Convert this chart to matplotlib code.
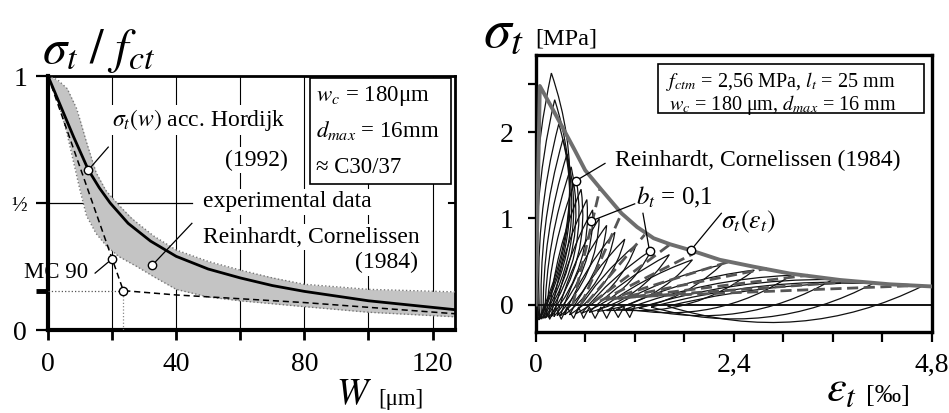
import numpy as np
import matplotlib
matplotlib.use("Agg")
import matplotlib.pyplot as plt
from matplotlib.path import Path
from matplotlib.patches import PathPatch, Rectangle

plt.rcParams.update({
    "font.family": ["Liberation Serif", "DejaVu Serif"],
    "mathtext.fontset": "stix",
})

# ---- left panel: sigma_t / f_ct over crack opening w [um] ----
band_up_w = [0, 3, 6, 9, 12, 15, 18, 21.5, 26, 33, 40, 50, 60, 70, 80, 100, 127]
band_up_s = [1.0, 0.985, 0.95, 0.87, 0.74, 0.62, 0.55, 0.50, 0.44, 0.37, 0.315, 0.27, 0.236, 0.205, 0.18, 0.16, 0.15]
band_lo_w = [0, 2, 4, 6, 8, 10, 12, 15, 18.3, 22, 27.7, 33, 40, 50, 60, 80, 100, 127]
band_lo_s = [1.0, 0.94, 0.86, 0.77, 0.66, 0.55, 0.45, 0.38, 0.33, 0.29, 0.25, 0.21, 0.16, 0.13, 0.115, 0.092, 0.07, 0.052]

hordijk_w = [0, 4, 8, 12.6, 16, 19.4, 25, 32, 40, 50, 60, 70, 80, 100, 127]
hordijk_s = [1.0, 0.88, 0.76, 0.63, 0.56, 0.50, 0.42, 0.35, 0.29, 0.24, 0.205, 0.175, 0.152, 0.115, 0.08]

mc90_w = [0, 23.5, 40, 80, 127]
mc90_s = [1.0, 0.155, 0.138, 0.108, 0.064]

mc90_marks_w = [20, 23.5]
mc90_marks_s = [0.28, 0.155]
hordijk_mark = (12.6, 0.63)
exp_mark = (32.6, 0.256)

w_ticks = [0, 20, 40, 60, 80, 100, 120]
w_labels = ["0", "", "40", "", "80", "", "120"]
s_ticks = [0, 0.155, 0.5, 1]
s_labels = ["0", "", "½", "1"]

# ---- right panel: cyclic sigma_t over eps_t ----
env_eps = [0.0, 0.05, 0.20, 0.33, 0.47, 0.60, 0.80, 1.04, 1.23, 1.43, 1.63, 1.88, 2.23, 2.64, 3.08, 3.69, 4.29, 4.80]
env_sig = [0.0, 2.54, 2.28, 2.05, 1.80, 1.56, 1.33, 1.06, 0.90, 0.77, 0.70, 0.63, 0.52, 0.44, 0.36, 0.285, 0.235, 0.21]

loop_peak_eps = [0.19, 0.23, 0.28, 0.33, 0.38, 0.43, 0.49, 0.55, 0.62, 0.69, 0.77, 0.86,
                 0.96, 1.08, 1.22, 1.40, 1.62, 1.90, 2.25, 2.65, 3.10, 3.60, 4.10, 4.70]
loop_peak_sig = [2.69, 2.38, 2.10, 1.92, 1.75, 1.60, 1.46, 1.34, 1.22, 1.10, 1.00, 0.92,
                 0.84, 0.76, 0.70, 0.63, 0.58, 0.52, 0.46, 0.40, 0.34, 0.29, 0.25, 0.22]
loop_foot_eps = [0.03, 0.04, 0.05, 0.07, 0.09, 0.11, 0.13, 0.16, 0.19, 0.22, 0.26, 0.30,
                 0.35, 0.41, 0.48, 0.56, 0.65, 0.75, 0.86, 0.98, 1.10, 1.25, 1.40, 1.60]
loop_foot_sig = [-0.18, -0.18, -0.17, -0.17, -0.16, -0.16, -0.15, -0.15, -0.14, -0.14, -0.13, -0.13,
                 -0.12, -0.12, -0.11, -0.10, -0.09, -0.08, -0.07, -0.06, -0.05, -0.04, -0.03, -0.02]

# model unloading lines (b_t = 0,1): from envelope down to the strain axis
model_peak_eps = [0.78, 1.04, 1.32, 1.63, 1.95, 2.35, 2.80, 3.30, 3.90, 4.60]
model_peak_sig = [1.35, 1.06, 0.81, 0.70, 0.61, 0.50, 0.42, 0.34, 0.27, 0.22]
model_foot_eps = [0.45, 0.55, 0.62, 0.70, 0.78, 0.85, 0.92, 1.00, 1.08, 1.15]
model_foot_sig = [0.0, 0.0, 0.02, 0.03, 0.04, 0.05, 0.06, 0.07, 0.08, 0.09]

zig_eps = [0.10, 0.17, 0.24, 0.31, 0.38, 0.46, 0.52, 0.58, 0.65, 0.72, 0.79, 0.86, 0.93, 1.00, 1.07, 1.14, 1.20]
zig_sig = [-0.02, -0.17, -0.03, -0.17, -0.03, -0.16, -0.03, -0.16, -0.03, -0.16, -0.03, -0.16, -0.03, -0.15, -0.03, -0.15, -0.02]

circle_eps = [0.49, 0.67, 1.38, 1.88]
circle_sig = [1.44, 0.97, 0.62, 0.63]

eps_ticks = [0, 0.6, 1.2, 1.8, 2.4, 3.0, 3.6, 4.2, 4.8]
eps_labels = ["0", "", "", "", "2,4", "", "", "", "4,8"]
sig_ticks = [0, 1, 2, 2.56]
sig_labels = ["0", "1", "2", ""]

W, H = 949, 413
fig = plt.figure(figsize=(W / 100, H / 100), dpi=100)
axl = fig.add_axes([48 / W, 1 - 330 / H, 407 / W, 254 / H])
axr = fig.add_axes([535.7 / W, 1 - 331.7 / H, 396 / W, 276.7 / H])


def mark(ax, x, y):
    ax.plot(x, y, "o", ms=6, mfc="white", mec="black", mew=1.0, zorder=8, clip_on=False)


def leader(ax, p, q):
    ax.plot([p[0], q[0]], [p[1], q[1]], color="black", lw=0.9, zorder=7, clip_on=False)


# ----------------------------- left panel -----------------------------
axl.set_xlim(0, 127)
axl.set_ylim(0, 1)
up = np.interp(band_lo_w, band_up_w, band_up_s)
axl.fill_between(band_lo_w, band_lo_s, up, color="#c4c4c4", lw=0, zorder=2)
axl.plot(band_up_w, band_up_s, color="#777777", lw=1.0, ls=":", zorder=3)
axl.plot(band_lo_w, band_lo_s, color="#777777", lw=1.0, ls=":", zorder=3)
axl.plot(hordijk_w, hordijk_s, color="black", lw=2.0, zorder=5)
axl.plot(mc90_w, mc90_s, color="black", lw=1.1, ls=(0, (4, 2.5)), zorder=5)
axl.plot([0, mc90_marks_w[1]], [mc90_marks_s[1]] * 2, color="#555555", lw=0.9, ls=":", zorder=4)
axl.plot([mc90_marks_w[1]] * 2, [0, mc90_marks_s[1]], color="#888888", lw=0.9, ls=":", zorder=4)

axl.set_axisbelow(True)
axl.grid(axis="x", color="black", lw=0.8)
axl.axhline(0.5, xmax=0.355, color="black", lw=0.9, zorder=1)
axl.axhline(0.5, xmin=0.985, color="black", lw=1.5, zorder=1)

mark(axl, mc90_marks_w, mc90_marks_s)
mark(axl, *hordijk_mark)
mark(axl, *exp_mark)

tfs = 17
wb = dict(fc="white", ec="none", pad=1.5)
axl.text(20, 0.827, r"$\sigma_t(w)$ acc. Hordijk", fontsize=tfs, va="center", zorder=6, bbox=wb)
axl.text(74.7, 0.669, "(1992)", fontsize=tfs, va="center", ha="right", zorder=6, bbox=wb)
axl.text(48.4, 0.504, "experimental data", fontsize=tfs, va="center", zorder=6, bbox=wb)
axl.text(48.4, 0.366, "Reinhardt, Cornelissen", fontsize=tfs, va="center", zorder=6, bbox=wb)
axl.text(115.3, 0.264, "(1984)", fontsize=tfs, va="center", ha="right", zorder=6, bbox=wb)
axl.text(12.5, 0.228, "MC 90", fontsize=tfs - 0.5, va="center", ha="right", zorder=6, clip_on=False)
leader(axl, hordijk_mark, (18.8, 0.72))
leader(axl, exp_mark, (44.9, 0.42))
leader(axl, (mc90_marks_w[0], mc90_marks_s[0]), (14.7, 0.224))

axl.add_patch(Rectangle((81.6, 0.575), 44.0, 0.417, fc="white", ec="black", lw=1.2, zorder=6))
bfs = 16.5
axl.text(83.6, 0.92, r"$w_c$ = 180μm", fontsize=bfs, va="center", zorder=7)
axl.text(83.6, 0.785, r"$d_{max}$ = 16mm", fontsize=bfs, va="center", zorder=7)
axl.text(83.6, 0.64, "≈ C30/37", fontsize=bfs, va="center", zorder=7)

axl.set_xticks(w_ticks, w_labels)
axl.set_yticks(s_ticks, s_labels)
axl.tick_params(axis="x", direction="out", length=7, width=2, pad=9, labelsize=20)
axl.tick_params(axis="y", direction="out", length=9, width=1.6, pad=6, labelsize=20)
axl.yaxis.get_major_ticks()[1].tick1line.set_markeredgewidth(3.5)
axl.yaxis.get_major_ticks()[2].label1.set_fontsize(15)
for side, lw in [("left", 3.0), ("bottom", 3.0), ("top", 2.0), ("right", 2.0)]:
    axl.spines[side].set_linewidth(lw)

fig.text(42 / W, 1 - 63 / H, r"$\sigma_t\ /\ f_{ct}$", fontsize=35, va="baseline")
fig.text(354 / W, 1 - 404 / H, r"$W$", fontsize=27, ha="center", va="baseline")
fig.text(378 / W, 1 - 405 / H, "[μm]", fontsize=16.5, va="baseline")

# ----------------------------- right panel -----------------------------
axr.set_xlim(0, 4.8)
axr.set_ylim(-0.316, 2.9)
axr.axhline(0, color="black", lw=1.3, zorder=3)

to_px = axr.transData.transform
to_data = axr.transData.inverted().transform
for pe, ps, fe, fs in zip(loop_peak_eps, loop_peak_sig, loop_foot_eps, loop_foot_sig):
    P = to_px((pe, ps))
    F = to_px((fe, fs))
    d = P - F
    n = np.array([-d[1], d[0]])
    mid = (P + F) / 2
    verts = to_data([F, mid - 0.2 * n, P, mid + 0.08 * n, F])
    codes = [Path.MOVETO, Path.CURVE3, Path.CURVE3, Path.CURVE3, Path.CURVE3]
    axr.add_patch(PathPatch(Path(verts, codes), fc="none", ec="#111111", lw=0.9, zorder=4))

for pe, ps, fe, fs in zip(model_peak_eps, model_peak_sig, model_foot_eps, model_foot_sig):
    axr.plot([fe, pe], [fs, ps], color="#555555", lw=2.0, ls=(0, (4, 2)), zorder=5)

axr.plot(zig_eps, zig_sig, color="#111111", lw=0.9, zorder=4)
axr.plot(env_eps, env_sig, color="#6e6e6e", lw=2.8, zorder=6, solid_joinstyle="round")

mark(axr, circle_eps, circle_sig)
leader(axr, (circle_eps[0], circle_sig[0]), (0.84, 1.64))
leader(axr, (circle_eps[1], circle_sig[1]), (1.20, 1.17))
leader(axr, (circle_eps[2], circle_sig[2]), (1.30, 1.06))
leader(axr, (circle_eps[3], circle_sig[3]), (2.25, 1.06))

rfs = 17
axr.text(0.96, 1.68, "Reinhardt, Cornelissen (1984)", fontsize=rfs, va="center", zorder=9)
axr.text(1.22, 1.24, r"$b_t$ = 0,1", fontsize=rfs + 1, va="center", zorder=9)
axr.text(2.25, 0.96, r"$\sigma_t(\varepsilon_t)$", fontsize=rfs + 1.5, va="center", zorder=9)

axr.add_patch(Rectangle((1.486, 2.223), 3.221, 0.57, fc="white", ec="black", lw=1.2, zorder=9))
axr.text(2.97, 2.59, r"$f_{ctm}$ = 2,56 MPa, $l_t$ = 25 mm", fontsize=14.5, ha="center", va="center", zorder=10)
axr.text(2.99, 2.32, r"$w_c$ = 180 μm, $d_{max}$ = 16 mm", fontsize=14.5, ha="center", va="center", zorder=10)

axr.set_xticks(eps_ticks, eps_labels)
axr.set_yticks(sig_ticks, sig_labels)
axr.tick_params(axis="x", direction="out", length=7, width=1.6, pad=8, labelsize=20)
axr.tick_params(axis="y", direction="out", length=6, width=1.6, pad=10, labelsize=20)
for side in axr.spines:
    axr.spines[side].set_linewidth(2.4)

fig.text(483 / W, 1 - 46 / H, r"$\sigma_t$", fontsize=40, va="baseline")
fig.text(535 / W, 1 - 44 / H, "[MPa]", fontsize=17.5, va="baseline")
fig.text(826 / W, 1 - 401 / H, r"$\varepsilon_t$", fontsize=32, va="baseline")
fig.text(866 / W, 1 - 402 / H, "[‰]", fontsize=19, va="baseline")

fig.savefig("out.png", dpi=100)
